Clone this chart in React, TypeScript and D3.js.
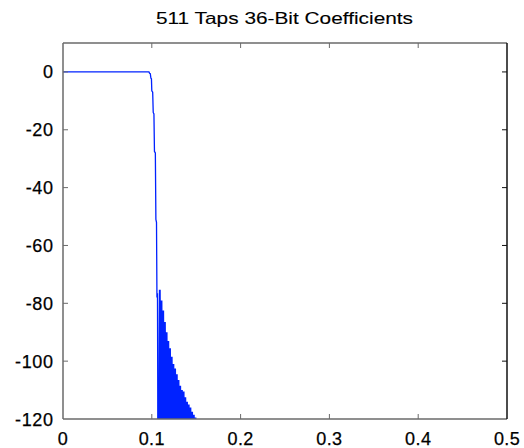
import React from "react";
import * as d3 from "d3";

const TITLE = "511 Taps 36-Bit Coefficients";

// Passband + transition band (normalized frequency, dB)
const transFreq = [0, 0.0968, 0.0975, 0.0983, 0.099, 0.0996, 0.1, 0.101, 0.1016, 0.1024, 0.103, 0.104, 0.1046, 0.1053, 0.1058, 0.1064, 0.107];
const transDb = [0, 0, -0.5, -0.6, -2.2, -2.4, -6.5, -7, -14, -14.5, -27.5, -28, -51, -52, -78, -76.5, -140];

// Stopband lobes: peaks and nulls
const lobePeakFreq = [0.10901, 0.11092, 0.11284, 0.11475, 0.11667, 0.11858, 0.1205, 0.12241, 0.12432, 0.12624, 0.12815, 0.13007, 0.13198, 0.1339, 0.13581, 0.13773, 0.13964, 0.14155, 0.14347, 0.14538, 0.1473, 0.14921];
const lobePeakDb = [-75.3, -79, -82.5, -86.5, -90, -93, -95.5, -98.5, -101, -102.5, -104.5, -106.5, -108.5, -110, -110.5, -112.5, -114, -115, -116, -117.5, -118.5, -119.5];
const lobeNullFreq = [0.10996, 0.11188, 0.1138, 0.11571, 0.11763, 0.11954, 0.12146, 0.12337, 0.12528, 0.1272, 0.12911, 0.13103, 0.13294, 0.13486, 0.13677, 0.13869, 0.1406, 0.14251, 0.14443, 0.14634, 0.14826, 0.15017];
const NULL_DB = -140;
const tailFreq = [0.5];
const tailDb = [-140];

const xTicks = [0, 0.1, 0.2, 0.3, 0.4, 0.5];
const xTickLabels = ["0", "0.1", "0.2", "0.3", "0.4", "0.5"];
const yTicks = [0, -20, -40, -60, -80, -100, -120];
const yTickLabels = ["0", "-20", "-40", "-60", "-80", "-100", "-120"];

const W = 524, H = 448;
const L = 63, R = 507, T = 43, B = 419;

export default function App() {
  const x = d3.scaleLinear().domain([0, 0.5]).range([L, R]);
  const y = d3.scaleLinear().domain([-120, 10]).range([B, T]);

  const passPts: [number, number][] = transFreq.map((f, i) => [f, transDb[i]] as [number, number]);
  const stopPts: [number, number][] = [[transFreq[transFreq.length - 1], transDb[transDb.length - 1]]];
  lobePeakFreq.forEach((f, i) => {
    stopPts.push([f, lobePeakDb[i]]);
    stopPts.push([lobeNullFreq[i], NULL_DB]);
  });
  tailFreq.forEach((f, i) => stopPts.push([f, tailDb[i]]));

  const line = d3.line<[number, number]>().x((d) => x(d[0])).y((d) => y(d[1]));

  const font = "'Liberation Sans', Arial, Helvetica, sans-serif";
  const axisColor = "#6a6a6a";
  const tickLen = 5;

  return (
    <svg width={W} height={H} style={{ position: "absolute", left: 0, top: 0, background: "#fff" }}>
      <rect x={0} y={0} width={W} height={H} fill="#fff" />
      <defs>
        <clipPath id="plotclip">
          <rect x={L} y={T} width={R - L} height={B - T} />
        </clipPath>
      </defs>
      <g clipPath="url(#plotclip)">
        <path d={line(passPts) || ""} fill="none" stroke="#0022ff" strokeWidth={1.3} />
        <path d={line(stopPts) || ""} fill="none" stroke="#0022ff" strokeWidth={1.9} strokeLinejoin="miter" />
      </g>
      {/* box */}
      <line x1={L} y1={T} x2={R} y2={T} stroke={axisColor} strokeWidth={1.5} />
      <line x1={L} y1={B} x2={R} y2={B} stroke={axisColor} strokeWidth={1.5} />
      <line x1={L} y1={T} x2={L} y2={B} stroke={axisColor} strokeWidth={1.5} />
      <line x1={R} y1={T} x2={R} y2={B} stroke="#111" strokeWidth={1.5} />
      {/* ticks */}
      {xTicks.map((t, i) => (
        <g key={"xt" + i}>
          {t > 0 && t < 0.5 && (
            <>
              <line x1={x(t)} x2={x(t)} y1={B} y2={B - tickLen} stroke={axisColor} strokeWidth={1} />
              <line x1={x(t)} x2={x(t)} y1={T} y2={T + tickLen} stroke={axisColor} strokeWidth={1} />
            </>
          )}
          <text x={x(t)} y={444.5} textAnchor="middle" fontFamily={font} fontSize={18} fill="#000" stroke="#000" strokeWidth={0.25} letterSpacing={0.4}>
            {xTickLabels[i]}
          </text>
        </g>
      ))}
      {yTicks.map((t, i) => (
        <g key={"yt" + i}>
          {t > -120 && (
            <>
              <line x1={L} x2={L + tickLen} y1={y(t)} y2={y(t)} stroke={axisColor} strokeWidth={1} />
              <line x1={R} x2={R - tickLen} y1={y(t)} y2={y(t)} stroke="#111" strokeWidth={1} />
            </>
          )}
          <text x={53.5} y={y(t) + 6.5} textAnchor="end" fontFamily={font} fontSize={18} fill="#000" stroke="#000" strokeWidth={0.25} letterSpacing={0.6}>
            {yTickLabels[i]}
          </text>
        </g>
      ))}
      <text x={156} y={23.5} fontFamily={font} fontSize={16.5} fill="#000" stroke="#000" strokeWidth={0.12} textLength={257} lengthAdjust="spacingAndGlyphs">
        {TITLE}
      </text>
    </svg>
  );
}
